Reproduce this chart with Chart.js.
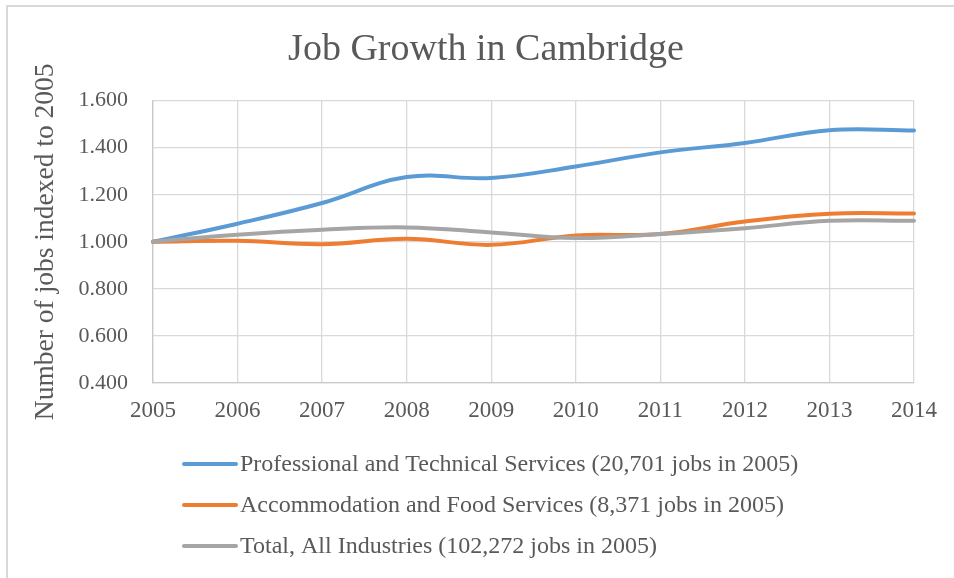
<!DOCTYPE html>
<html>
<head>
<meta charset="utf-8">
<title>Job Growth in Cambridge</title>
<script src="https://cdn.jsdelivr.net/npm/chart.js@4/dist/chart.umd.min.js"></script>
<style>
  html, body { margin: 0; padding: 0; background: #fff; }
  #wrap { position: relative; width: 954px; height: 578px; }
</style>
</head>
<body>
<div id="wrap"><canvas id="chart" width="954" height="578"></canvas></div>
<script>
// ── Data ──
const years = ['2005', '2006', '2007', '2008', '2009', '2010', '2011', '2012', '2013', '2014'];
const profTech = [1.000, 1.077, 1.165, 1.275, 1.271, 1.320, 1.380, 1.420, 1.474, 1.473];
const accomFood = [1.000, 1.004, 0.990, 1.013, 0.987, 1.027, 1.033, 1.086, 1.119, 1.120];
const allIndustries = [1.000, 1.030, 1.051, 1.061, 1.040, 1.016, 1.033, 1.058, 1.089, 1.089];
const seriesLabels = [
  'Professional and Technical Services (20,701 jobs in 2005)',
  'Accommodation and Food Services (8,371 jobs in 2005)',
  'Total, All Industries (102,272 jobs in 2005)'
];

const TEXT = '#595959';
const GRID = '#d9d9d9';
const SERIF = '"Liberation Serif", "Times New Roman", serif';

// ── Frame: light border on top and left, like the cropped Excel chart ──
const framePlugin = {
  id: 'frame',
  beforeDraw(chart) {
    const ctx = chart.ctx;
    ctx.save();
    ctx.fillStyle = '#d9d9d9';
    ctx.fillRect(6, 5, 2, chart.height - 5);
    ctx.fillRect(6, 5, chart.width - 6, 2);
    ctx.restore();
  }
};

// ── Vertical legend, left aligned under the plot ──
const stackedLegend = {
  id: 'stackedLegend',
  afterDraw(chart) {
    const ctx = chart.ctx;
    const rows = [464, 505, 546];
    ctx.save();
    ctx.font = '24px ' + SERIF;
    ctx.textBaseline = 'middle';
    ctx.textAlign = 'left';
    chart.data.datasets.forEach((ds, i) => {
      const y = rows[i];
      ctx.strokeStyle = ds.borderColor;
      ctx.lineWidth = 4;
      ctx.lineCap = 'round';
      ctx.beginPath();
      ctx.moveTo(184, y);
      ctx.lineTo(236, y);
      ctx.stroke();
      ctx.fillStyle = TEXT;
      ctx.fillText(ds.label, 240, y + 1);
    });
    ctx.restore();
  }
};

new Chart(document.getElementById('chart'), {
  type: 'line',
  data: {
    labels: years,
    datasets: [
      { label: seriesLabels[0], data: profTech, borderColor: '#5b9bd5', order: 2 },
      { label: seriesLabels[1], data: accomFood, borderColor: '#ed7d31', order: 1 },
      { label: seriesLabels[2], data: allIndustries, borderColor: '#a5a5a5', order: 0 }
    ]
  },
  options: {
    responsive: false,
    animation: false,
    devicePixelRatio: 1,
    // left padding pushes the title centre to match the original
    layout: { padding: { top: 0, left: 18, right: 0, bottom: 145 } },
    elements: {
      line: { borderWidth: 4, tension: 0.4, fill: false, borderCapStyle: 'round' },
      point: { radius: 0, hoverRadius: 0 }
    },
    plugins: {
      legend: { display: false },
      tooltip: { enabled: false },
      title: {
        display: true,
        text: 'Job Growth in Cambridge',
        color: TEXT,
        font: { family: SERIF, size: 38, weight: 'normal', lineHeight: 1.2 },
        padding: { top: 27, bottom: 28 }
      }
    },
    scales: {
      x: {
        offset: false,
        grid: { color: GRID, lineWidth: 1.3, drawTicks: false },
        border: { color: '#c9c9c9', width: 1.3 },
        ticks: { color: TEXT, font: { family: SERIF, size: 23 }, padding: 14, maxRotation: 0 },
        afterFit: s => { s.height = 50; s.paddingRight = 40; }
      },
      y: {
        min: 0.4,
        max: 1.6,
        grid: { color: GRID, lineWidth: 1.3, drawTicks: false },
        border: { color: '#c9c9c9', width: 1.3 },
        ticks: {
          stepSize: 0.2,
          color: TEXT,
          padding: 25,
          font: { family: SERIF, size: 22 },
          callback: v => v.toFixed(3)
        },
        title: {
          display: true,
          text: 'Number of jobs indexed to 2005',
          color: TEXT,
          font: { family: SERIF, size: 27.5, lineHeight: 1.2 },
          padding: { top: 11, bottom: 0 }
        },
        afterFit: s => { s.width = 135; }
      }
    }
  },
  plugins: [framePlugin, stackedLegend]
});
</script>
</body>
</html>
